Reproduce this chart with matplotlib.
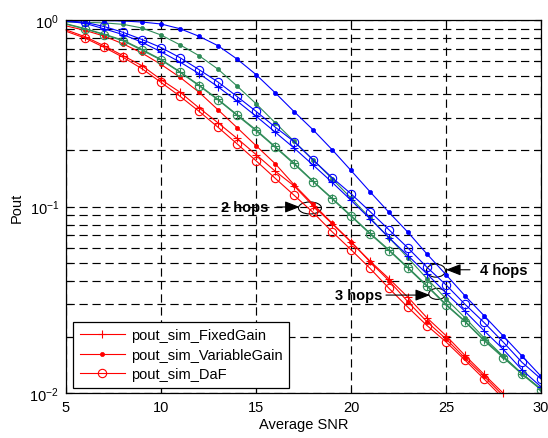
import matplotlib
matplotlib.use("Agg")
import matplotlib.pyplot as plt
from matplotlib.lines import Line2D
from matplotlib.patches import Ellipse
from matplotlib.transforms import ScaledTranslation
from matplotlib.ticker import LogLocator, NullFormatter, FixedLocator

plt.rcParams['font.family'] = ['Liberation Sans', 'DejaVu Sans']
plt.rcParams['mathtext.fontset'] = 'custom'
plt.rcParams['mathtext.rm'] = 'Liberation Sans'
plt.rcParams['mathtext.it'] = 'Liberation Sans:italic'
plt.rcParams['mathtext.bf'] = 'Liberation Sans:bold'

# Average SNR (dB)
snr = list(range(5, 31))
snr_2hop = list(range(5, 29))

# 2 hops
red_fixed = [0.885, 0.814, 0.728, 0.644, 0.569, 0.479, 0.410, 0.338, 0.281, 0.232,
             0.190, 0.155, 0.129, 0.101, 0.081, 0.0645, 0.051, 0.041, 0.0326, 0.0253,
             0.0203, 0.0159, 0.0126, 0.0100]
red_var = [0.930, 0.880, 0.820, 0.745, 0.665, 0.578, 0.493, 0.410, 0.330, 0.265,
           0.212, 0.170, 0.131, 0.103, 0.0816, 0.0648, 0.0505, 0.0400, 0.0308, 0.0241,
           0.0195, 0.0154, 0.0123, 0.0097]
red_daf = [0.870, 0.800, 0.714, 0.631, 0.548, 0.463, 0.390, 0.324, 0.266, 0.217,
           0.176, 0.142, 0.115, 0.093, 0.0733, 0.0587, 0.0466, 0.0364, 0.0288, 0.0230,
           0.0188, 0.0150, 0.0119, 0.0094]

# 3 hops
green_fixed = [0.955, 0.900, 0.840, 0.780, 0.695, 0.615, 0.528, 0.448, 0.376, 0.311,
               0.258, 0.210, 0.171, 0.137, 0.111, 0.0895, 0.0720, 0.0586, 0.0471, 0.0377,
               0.0299, 0.0243, 0.0193, 0.0157, 0.0127, 0.0105]
green_var = [0.975, 0.972, 0.965, 0.948, 0.906, 0.831, 0.736, 0.644, 0.545, 0.443,
             0.356, 0.282, 0.224, 0.178, 0.141, 0.111, 0.087, 0.068, 0.053, 0.041,
             0.032, 0.0253, 0.0198, 0.0158, 0.0127, 0.0105]
green_daf = [0.950, 0.895, 0.834, 0.774, 0.688, 0.610, 0.524, 0.444, 0.373, 0.308,
             0.255, 0.208, 0.169, 0.136, 0.110, 0.0886, 0.0713, 0.0580, 0.0466, 0.0373,
             0.0296, 0.0241, 0.0191, 0.0155, 0.0126, 0.0104]

# 4 hops
blue_fixed = [0.985, 0.960, 0.897, 0.835, 0.760, 0.675, 0.595, 0.516, 0.438, 0.368,
              0.305, 0.251, 0.206, 0.167, 0.135, 0.108, 0.086, 0.068, 0.0545, 0.0435,
              0.0344, 0.0274, 0.0216, 0.0172, 0.0133, 0.0108]
blue_var = [0.995, 0.995, 0.993, 0.988, 0.975, 0.952, 0.898, 0.818, 0.728, 0.618,
            0.510, 0.408, 0.323, 0.258, 0.202, 0.156, 0.120, 0.093, 0.0727, 0.0556,
            0.0431, 0.0332, 0.0260, 0.0203, 0.0158, 0.0123]
blue_daf = [0.990, 0.972, 0.923, 0.859, 0.786, 0.712, 0.628, 0.542, 0.465, 0.389,
            0.324, 0.267, 0.223, 0.178, 0.143, 0.117, 0.094, 0.075, 0.0599, 0.0472,
            0.0380, 0.0299, 0.0239, 0.0188, 0.0146, 0.0119]

legend_labels = ['pout_sim_FixedGain', 'pout_sim_VariableGain', 'pout_sim_DaF']
x_ticks = [5, 10, 15, 20, 25, 30]

RED = '#ff0000'
GREEN = '#2e8b57'
BLUE = '#0000ff'

fig = plt.figure(figsize=(5.48, 4.39), dpi=100)
ax = fig.add_axes([66 / 548, 1 - 394 / 439, 475 / 548, 373 / 439])
ax.set_yscale('log')

lw = 0.8
styles = {
    'fixed': dict(marker='+', ms=6.2, mew=0.8),
    'var': dict(marker='o', ms=3.0, mew=0.5),
    'daf': dict(marker='o', ms=6.0, mew=0.8, mfc='none'),
}


def draw(x, y, color, kind, **kw):
    st = dict(styles[kind])
    if kind == 'var':
        st['mfc'] = color
    ax.plot(x, y, color=color, lw=lw, markevery=slice(1, None), **st, **kw)


draw(snr_2hop, red_fixed, RED, 'fixed', clip_on=False)
draw(snr_2hop, red_var, RED, 'var')
draw(snr_2hop, red_daf, RED, 'daf')
draw(snr, green_fixed, GREEN, 'fixed')
draw(snr, green_var, GREEN, 'var')
draw(snr, green_daf, GREEN, 'daf')
draw(snr, blue_fixed, BLUE, 'fixed')
draw(snr, blue_var, BLUE, 'var')
draw(snr, blue_daf, BLUE, 'daf')

ax.set_xlim(5, 30)
ax.set_ylim(1e-2, 1)
ax.xaxis.set_major_locator(FixedLocator(x_ticks))
ax.yaxis.set_major_locator(LogLocator(base=10, numticks=10))
ax.yaxis.set_minor_locator(LogLocator(base=10, subs=range(2, 10), numticks=20))
ax.yaxis.set_minor_formatter(NullFormatter())

grid_kw = dict(color='k', lw=0.85, linestyle=(0, (7, 4)))
ax.grid(True, which='major', axis='x', **grid_kw)
ax.grid(True, which='both', axis='y', **grid_kw)
ax.set_axisbelow(True)

ax.tick_params(which='both', direction='in', top=True, right=True,
               labelsize=10.5, width=0.8, colors='k')
ax.tick_params(which='major', length=4, pad=5)
ax.tick_params(which='minor', length=4)
for s in ax.spines.values():
    s.set_linewidth(0.9)

ax.set_xlabel('Average SNR', fontsize=10.5, labelpad=2)
ax.set_ylabel('Pout', fontsize=10.5, labelpad=4)

# legend for the 2-hop curves
handles = [
    Line2D([], [], color=RED, lw=lw, **styles['fixed']),
    Line2D([], [], color=RED, lw=lw, mfc=RED, **styles['var']),
    Line2D([], [], color=RED, lw=lw, **styles['daf']),
]
leg = ax.legend(handles, legend_labels, loc='lower left',
                bbox_to_anchor=(7 / 475, 5 / 373), borderaxespad=0,
                fontsize=10.5, fancybox=False, framealpha=1, edgecolor='k',
                handlelength=3.1, handletextpad=0.4, borderpad=0.45,
                labelspacing=0.38)
leg.get_frame().set_linewidth(0.9)


def ring(x, y, w_px, h_px):
    tr = fig.dpi_scale_trans + ScaledTranslation(x, y, ax.transData)
    ax.add_patch(Ellipse((0, 0), w_px / 100, h_px / 100, transform=tr,
                         fill=False, ec='k', lw=0.8))


def pointer(x0, x1, y):
    ax.annotate('', xy=(x1, y), xytext=(x0, y),
                arrowprops=dict(arrowstyle='-|>,head_length=0.9,head_width=0.35',
                                color='k', lw=0.8, shrinkA=0, shrinkB=0,
                                mutation_scale=10))


txt_kw = dict(ha='center', va='center', fontsize=10.5, fontweight='bold')

ring(17.84, 0.0982, 23, 12)
pointer(16.1, 17.3, 0.0994)
ax.text(14.42, 0.0994, '2 hops', **txt_kw)

ring(24.47, 0.0453, 19, 13)
pointer(26.26, 25.0, 0.0458)
ax.text(28.05, 0.0458, '4 hops', **txt_kw)

ring(24.54, 0.0340, 17, 11)
pointer(21.84, 24.16, 0.0335)
ax.text(20.42, 0.0335, '3 hops', **txt_kw)

fig.savefig('out.png', dpi=100)
